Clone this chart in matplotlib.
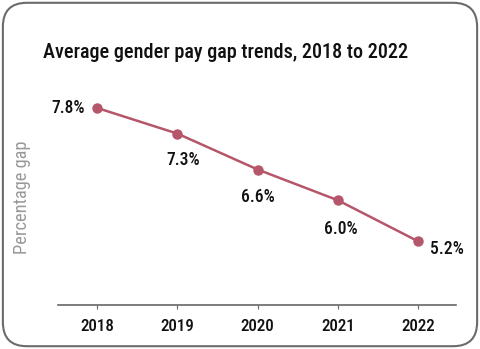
import matplotlib.pyplot as plt
from matplotlib.patches import FancyBboxPatch
from matplotlib import font_manager

years = [2018, 2019, 2020, 2021, 2022]
gap = [7.8, 7.3, 6.6, 6.0, 5.2]
labels = ['7.8%', '7.3%', '6.6%', '6.0%', '5.2%']

fonts = font_manager.fontManager.ttflist
names = {f.name for f in fonts}
prefs = ['Roboto Condensed', 'Liberation Sans Narrow', 'Archivo Narrow',
         'Barlow Semi Condensed', 'Roboto']
font = next(n for n in prefs if n in names or n == 'Roboto')
plt.rcParams['font.family'] = [font, 'DejaVu Sans']
# use a true medium face if the family has one, else regular
has_medium = any(f.name == font and f.weight == 500 and f.style == 'normal'
                 for f in fonts)
num_weight = 500 if has_medium else 'normal'

line_col = '#B5566A'

fig = plt.figure(figsize=(4.8, 3.49), dpi=100)
ax = fig.add_axes([58 / 480, 1 - 305 / 349, 398 / 480, (305 - 72) / 349])

border = FancyBboxPatch((0.006, 0.008), 0.988, 0.984,
                        boxstyle='round,pad=0,rounding_size=0.05',
                        transform=fig.transFigure, fill=False,
                        edgecolor='#6b6b6b', linewidth=1.5,
                        mutation_aspect=480 / 349)
fig.patches.append(border)

ax.plot(years, gap, color=line_col, linewidth=1.8, marker='o', markersize=6.5,
        zorder=3)

# label offsets in pixels: (dx, dy, ha)
offs = [(-12, 0, 'right'), (6, -26, 'center'), (0, -27, 'center'),
        (3, -29, 'center'), (12, -8, 'left')]
annots = []
for x, y, t, (dx, dy, ha) in zip(years, gap, labels, offs):
    a = ax.annotate(t, (x, y), xytext=(dx, dy), textcoords='offset pixels',
                    ha=ha, va='center', fontsize=12, color='#111111',
                    fontweight=num_weight)
    annots.append(a)

ax.set_xlim(2017.514, 2022.47)
ax.set_ylim(3.96, 8.5)
ax.set_xticks(years)
ax.set_xticklabels([str(y) for y in years], color='#111111',
                   fontweight=num_weight)
ax.set_yticks([])
for s in ['top', 'right', 'left']:
    ax.spines[s].set_visible(False)
ax.spines['bottom'].set_color('#666666')
ax.spines['bottom'].set_linewidth(1.2)
ax.tick_params(axis='x', length=3, color='#666666', pad=7, labelsize=12)

yl = fig.text(22 / 480, 1 - 197 / 349, 'Percentage gap', rotation=90,
              ha='center', va='center', fontsize=12, color='#999999')
title = fig.text(43 / 480, 1 - 53 / 349,
                 'Average gender pay gap trends, 2018 to 2022',
                 ha='left', va='center', fontsize=13.2, color='#111111',
                 fontweight=num_weight)

# scale font sizes so the texts span the widths
fig.canvas.draw()
renderer = fig.canvas.get_renderer()


def scale(txt, target, vertical=False):
    bb = txt.get_window_extent(renderer)
    size = bb.height if vertical else bb.width
    return txt.get_fontsize() * target / size


lab_size = scale(annots[0], 34)
for a in annots:
    a.set_fontsize(lab_size)
ax.tick_params(axis='x', labelsize=scale(ax.get_xticklabels()[0], 34))
yl.set_fontsize(scale(yl, 113, vertical=True))
title.set_fontsize(scale(title, 370))

fig.savefig('out.png', dpi=100)
